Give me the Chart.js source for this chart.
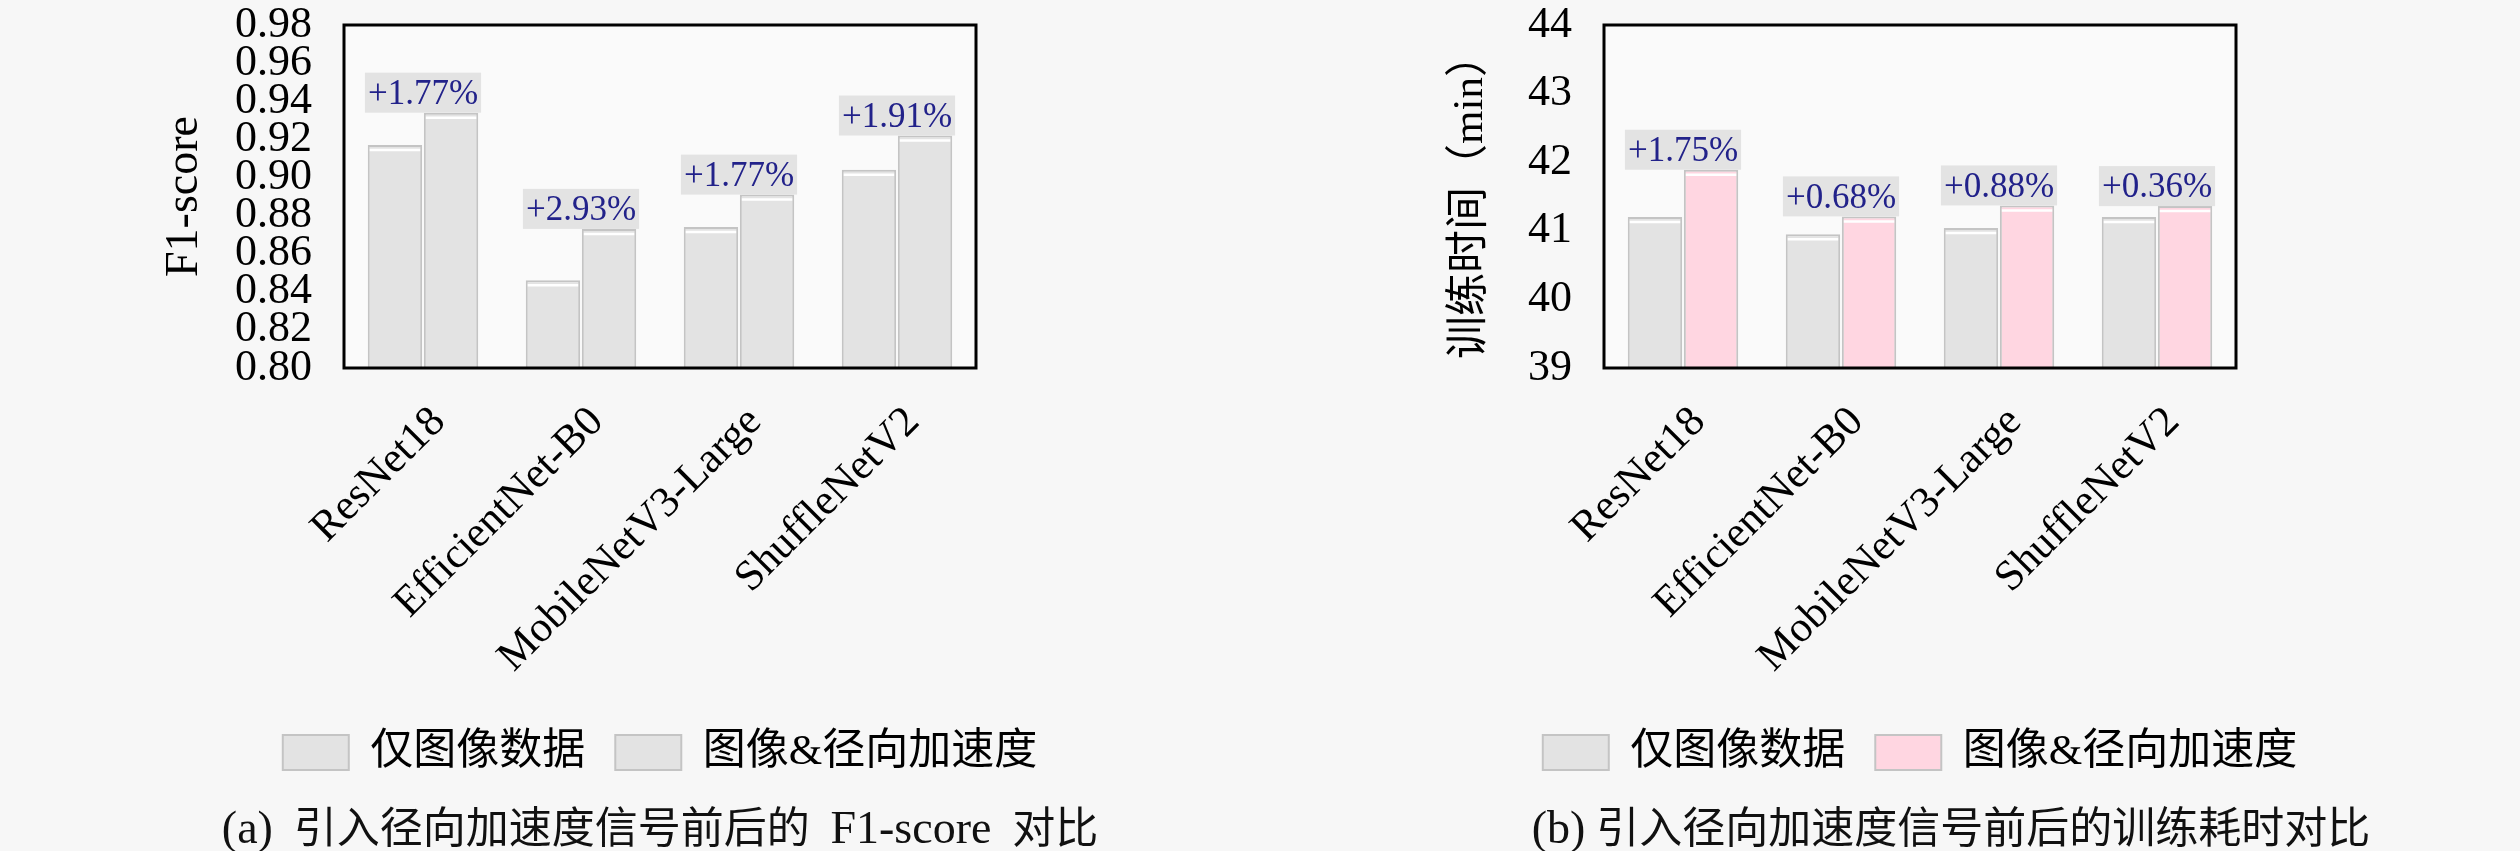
<!DOCTYPE html>
<html>
<head>
<meta charset="utf-8">
<script src="https://cdn.jsdelivr.net/npm/chart.js@4.4.1/dist/chart.umd.min.js"></script>
<style>
  body { margin: 0; background: #f7f7f7; width: 2520px; height: 851px; position: relative; overflow: hidden; }
  canvas { position: absolute; top: 0; }
  #f1 { left: 0; }
  #time { left: 1260px; }
  .caption { position: absolute; top: 800px; font: 43px 'Liberation Serif', 'Noto Sans CJK SC', serif; color: #111; white-space: nowrap; transform: translateX(-50%); line-height: 56px; }
  .caption .lat { font-size: 46px; }
</style>
</head>
<body>
<canvas id="f1" width="1320" height="851"></canvas>
<canvas id="time" width="1320" height="851"></canvas>
<div class="caption" style="left:660px; word-spacing:10px"><span class="lat">(a)</span> 引入径向加速度信号前后的 <span class="lat">F1-score</span> 对比</div>
<div class="caption" style="left:1951px"><span class="lat">(b)</span> 引入径向加速度信号前后的训练耗时对比</div>
<script>
const categories = ['ResNet18', 'EfficientNet-B0', 'MobileNetV3-Large', 'ShuffleNetV2'];
const seriesNames = ['仅图像数据', '图像&径向加速度'];

// F1-score
const f1ImageOnly = [0.917, 0.846, 0.874, 0.904];
const f1ImageAccel = [0.934, 0.873, 0.891, 0.922];
const f1Gains = ['+1.77%', '+2.93%', '+1.77%', '+1.91%'];
const f1Ticks = [0.80, 0.82, 0.84, 0.86, 0.88, 0.90, 0.92, 0.94, 0.96, 0.98];

// training time (min)
const timeImageOnly = [41.20, 40.95, 41.04, 41.20];
const timeImageAccel = [41.89, 41.21, 41.37, 41.36];
const timeGains = ['+1.75%', '+0.68%', '+0.88%', '+0.36%'];
const timeTicks = [39, 40, 41, 42, 43, 44];

const serif = "'Liberation Serif', 'Noto Sans CJK SC', serif";
const grey = '#e3e3e3';
const pink = '#ffd6e1';

// plot background + black frame
const frame = {
  id: 'frame',
  beforeDatasetsDraw(chart) {
    const {ctx, chartArea: a} = chart;
    ctx.save();
    ctx.fillStyle = '#fafafa';
    ctx.fillRect(a.left, a.top, a.right - a.left, a.bottom - a.top);
    ctx.restore();
  },
  afterDraw(chart) {
    const {ctx, chartArea: a} = chart;
    ctx.save();
    ctx.strokeStyle = '#000';
    ctx.lineWidth = 3;
    ctx.strokeRect(a.left, a.top, a.right - a.left, a.bottom - a.top);
    ctx.restore();
  }
};

// white highlight line under each bar top, then the gain box above each pair
const gainLabels = {
  id: 'gainLabels',
  afterDatasetsDraw(chart, args, opts) {
    const ctx = chart.ctx;
    const a = chart.getDatasetMeta(0).data;
    const b = chart.getDatasetMeta(1).data;
    ctx.save();
    [a, b].forEach(bars => bars.forEach(el => {
      ctx.strokeStyle = '#ffffff';
      ctx.lineWidth = 2.5;
      ctx.beginPath();
      ctx.moveTo(el.x - el.width / 2 + 2, el.y + 5);
      ctx.lineTo(el.x + el.width / 2 - 2, el.y + 5);
      ctx.stroke();
    }));
    ctx.font = "35px 'Liberation Serif', serif";
    ctx.textAlign = 'center';
    ctx.textBaseline = 'middle';
    opts.labels.forEach((txt, i) => {
      const left = a[i].x - a[i].width / 2;
      const right = b[i].x + b[i].width / 2;
      const top = Math.min(a[i].y, b[i].y);
      const cx = (left + right) / 2;
      const w = Math.max(right - left, ctx.measureText(txt).width + 6);
      ctx.fillStyle = grey;
      ctx.fillRect(cx - w / 2, top - 40, w, 40);
      ctx.fillStyle = '#22228a';
      ctx.fillText(txt, cx, top - 18);
    });
    ctx.restore();
  }
};

function makeChart(id, first, second, secondColor, gains, ticks, yTitle, titleSize, titlePad, fmt) {
  return new Chart(document.getElementById(id), {
    type: 'bar',
    data: {
      labels: categories,
      datasets: [
        { label: seriesNames[0], data: first, backgroundColor: grey, borderColor: '#c4c4c4', borderWidth: 2 },
        { label: seriesNames[1], data: second, backgroundColor: secondColor, borderColor: '#c4c4c4', borderWidth: 2 }
      ]
    },
    options: {
      responsive: false,
      animation: false,
      devicePixelRatio: 1,
      categoryPercentage: 0.71,
      barPercentage: 0.97,
      layout: { padding: { left: 0, top: 25, right: 0, bottom: 67 } },
      scales: {
        x: {
          grid: { display: false, drawTicks: false },
          border: { display: false },
          ticks: {
            color: '#000', font: { family: serif, size: 43 },
            minRotation: 45, maxRotation: 45, autoSkip: false,
            padding: 29, labelOffset: 16
          },
          afterFit(scale) { scale.height = 333; }
        },
        y: {
          min: ticks[0], max: ticks[ticks.length - 1],
          grid: { display: false, drawTicks: false },
          border: { display: false },
          afterBuildTicks(scale) { scale.ticks = ticks.map(v => ({ value: v })); },
          ticks: {
            color: '#000', font: { family: serif, size: 44 }, padding: 32,
            autoSkip: false,
            callback: fmt
          },
          title: {
            display: true, text: yTitle, color: '#000',
            font: { family: serif, size: titleSize },
            padding: { top: titlePad, bottom: 0 }
          },
          afterFit(scale) { scale.width = 344; scale.paddingTop = 0; scale.paddingBottom = 0; }
        },
        // empty right-hand box, keeps the legend centred under the plot
        spacer: {
          type: 'linear', position: 'right', display: true,
          grid: { display: false, drawTicks: false }, border: { display: false }, ticks: { display: false },
          afterFit(scale) { scale.width = 344; scale.paddingTop = 0; scale.paddingBottom = 0; }
        }
      },
      plugins: {
        tooltip: { enabled: false },
        legend: {
          position: 'bottom',
          labels: {
            color: '#000', font: { family: serif, size: 43 },
            boxWidth: 66, boxHeight: 35, padding: 30
          }
        },
        gainLabels: { labels: gains }
      }
    },
    plugins: [frame, gainLabels]
  });
}

makeChart('f1', f1ImageOnly, f1ImageAccel, grey, f1Gains, f1Ticks, 'F1-score', 46, 157, v => v.toFixed(2));
makeChart('time', timeImageOnly, timeImageAccel, pink, timeGains, timeTicks, '训练时间（min）', 43, 185, v => String(v));
</script>
</body>
</html>
